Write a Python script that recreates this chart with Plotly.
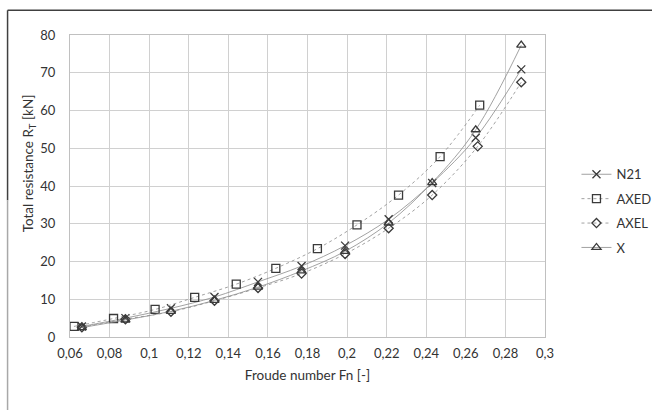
import plotly.graph_objects as go

# ---- data ----
fn_n21 = [0.066, 0.088, 0.111, 0.133, 0.155, 0.177, 0.199, 0.221, 0.243, 0.265, 0.288]
rt_n21 = [2.8, 5.0, 7.6, 10.6, 14.6, 18.8, 24.2, 31.2, 40.8, 52.8, 70.9]

fn_axed = [0.062, 0.082, 0.103, 0.123, 0.144, 0.164, 0.185, 0.205, 0.226, 0.247, 0.267]
rt_axed = [2.8, 4.9, 7.3, 10.5, 14.0, 18.2, 23.4, 29.7, 37.6, 47.8, 61.4]

fn_axel = [0.066, 0.088, 0.111, 0.133, 0.155, 0.177, 0.199, 0.221, 0.243, 0.266, 0.288]
rt_axel = [2.6, 4.7, 6.7, 9.6, 13.0, 16.8, 22.0, 28.8, 37.6, 50.5, 67.5]

fn_x = [0.066, 0.088, 0.111, 0.133, 0.155, 0.177, 0.199, 0.221, 0.243, 0.265, 0.288]
rt_x = [2.5, 4.5, 6.8, 9.7, 13.2, 17.5, 22.7, 30.2, 40.9, 54.9, 77.3]

x_tickvals = [0.06, 0.08, 0.10, 0.12, 0.14, 0.16, 0.18, 0.20, 0.22, 0.24, 0.26, 0.28, 0.30]
x_ticktext = ["0,06", "0,08", "0,1", "0,12", "0,14", "0,16", "0,18", "0,2", "0,22", "0,24", "0,26", "0,28", "0,3"]
y_tickvals = [0, 10, 20, 30, 40, 50, 60, 70, 80]

series = [
    ("N21", fn_n21, rt_n21, "x-thin-open", "solid", 8),
    ("AXED", fn_axed, rt_axed, "square-open", "dot", 8),
    ("AXEL", fn_axel, rt_axel, "diamond-open", "dot", 7),
    ("X", fn_x, rt_x, "triangle-up-open", "solid", 8),
]

MARK = "#3a3a3a"
TXT = "#333333"
FONT = "Lato"
FS = 13
FS_T = 13.5

fig = go.Figure()
for name, xs, ys, sym, dash, size in series:
    fig.add_trace(go.Scatter(
        x=xs, y=ys, name=name, legendgroup=name, mode="lines+markers",
        line=dict(color="#8a8a8a", width=0.8, dash=dash, shape="spline", smoothing=1.0),
        marker=dict(symbol=sym, size=size, color=MARK, line=dict(color=MARK, width=1.3)),
    ))

# the page body margin is removed (see post_script), so figure = page
W, H = 652, 410
PL, PR, PT, PB = 70, 545.5, 34.7, 336.7   # plot area in page pixels
L = PL
R = W - PR
T = PT
B = H - PB
pw = PR - PL
ph = PB - PT

def px(xp):
    return (xp - PL) / pw

def py(yp):
    return (PB - yp) / ph

fig.update_layout(
    width=W, height=H,
    margin=dict(l=L, r=R, t=T, b=B, pad=0, autoexpand=False),
    paper_bgcolor="white", plot_bgcolor="white",
    font=dict(family=FONT, size=FS, color=TXT),
    showlegend=True,
    legend=dict(x=px(577), y=py(159), xanchor="left", yanchor="top",
                font=dict(family=FONT, size=FS, color=TXT),
                tracegroupgap=4.5, bgcolor="rgba(0,0,0,0)"),
    xaxis=dict(range=[0.06, 0.30], tickmode="array", tickvals=x_tickvals, ticktext=x_ticktext,
               showgrid=True, gridcolor="#d0d0d0", gridwidth=1,
               showline=True, linecolor="#c0c0c0", linewidth=1, mirror=True,
               zeroline=False, ticks="", ticklabelstandoff=4,
               title=dict(text="Froude number Fn [-]", standoff=10,
                          font=dict(family=FONT, size=FS_T, color=TXT))),
    yaxis=dict(range=[0, 80], tickmode="array", tickvals=y_tickvals,
               showgrid=True, gridcolor="#d0d0d0", gridwidth=1,
               showline=True, linecolor="#c0c0c0", linewidth=1, mirror=True,
               zeroline=False, ticks="", ticklabelstandoff=11),
    annotations=[dict(text="Total resistance R<sub>T</sub> [kN]", textangle=-90,
                      xref="paper", yref="paper", x=px(29), y=py(163),
                      xanchor="center", yanchor="middle", showarrow=False,
                      font=dict(family=FONT, size=FS_T, color=TXT))],
)

# outer frame fragments (top and left border of the original figure)
fig.add_shape(type="line", xref="paper", yref="paper",
              x0=px(7.5), x1=px(660), y0=py(10), y1=py(10),
              line=dict(color="#404040", width=1.5))
fig.add_shape(type="line", xref="paper", yref="paper",
              x0=px(7.5), x1=px(7.5), y0=py(10), y1=py(200),
              line=dict(color="#404040", width=1.5))
fig.add_shape(type="line", xref="paper", yref="paper",
              x0=px(7.5), x1=px(7.5), y0=py(200), y1=py(420),
              line=dict(color="#a8a8a8", width=1.5))

fig.write_html(
    "out.html",
    config={"displayModeBar": False},
    post_script="document.body.style.margin='0';document.body.style.overflow='hidden';",
)
